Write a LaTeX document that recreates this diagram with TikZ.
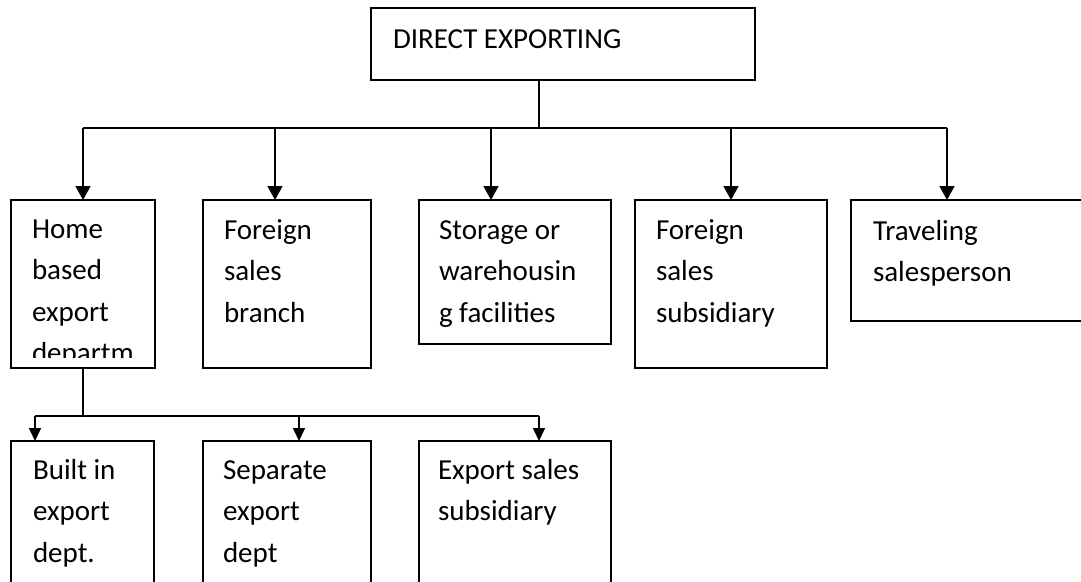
\documentclass[tikz,border=0pt]{standalone}
\usepackage{fontspec}
\setmainfont{Carlito}
\usetikzlibrary{arrows.meta}
\tikzset{
  boxn/.style={draw, line width=1.6pt, rectangle, anchor=north west, inner sep=0pt, outer sep=0pt},
  txt/.style={anchor=north west, inner sep=0pt, outer sep=0pt, align=left,
    font=\fontsize{29}{41.5}\selectfont},
  conn/.style={line width=1.6pt},
  arr/.style={line width=1.6pt, -{Triangle[width=15pt,length=14pt]}},
  arrs/.style={line width=1.6pt, -{Triangle[width=12pt,length=13pt]}},
}
\newcommand{\fs}{\rule{0pt}{24pt}}
\begin{document}
\begin{tikzpicture}[x=1pt,y=-1pt]
\path[use as bounding box, clip] (0,0) rectangle (1081,581);
% boxes
\node[boxn, minimum width=384pt, minimum height=72pt] (top) at (371,8) {};
\node[boxn, minimum width=144pt, minimum height=168pt] (r1) at (11,200) {};
\node[boxn, minimum width=168pt, minimum height=168pt] (r2) at (203,200) {};
\node[boxn, minimum width=192pt, minimum height=144pt] (r3) at (419,200) {};
\node[boxn, minimum width=192pt, minimum height=168pt] (r4) at (635,200) {};
\node[boxn, minimum width=250pt, minimum height=121pt] (r5) at (851,200) {};
\node[boxn, minimum width=143pt, minimum height=170pt] (b1) at (11,441) {};
\node[boxn, minimum width=168pt, minimum height=170pt] (b2) at (203,441) {};
\node[boxn, minimum width=192pt, minimum height=170pt] (b3) at (419,441) {};
% texts
\node[txt] (ttop) at (393,24) {\fs DIRECT EXPORTING};
\begin{scope}
\clip (12,201) rectangle (154,357);
\node[txt] (tr1) at (32,214) {\fs Home\\based\\export\\departm};
\end{scope}
\node[txt] (tr2) at (224,215) {\fs Foreign\\sales\\branch};
\node[txt] (tr3) at (439,215) {\fs Storage or\\warehousin\\g facilities};
\node[txt] (tr4) at (656,215) {\fs Foreign\\sales\\subsidiary};
\node[txt] (tr5) at (873,216) {\fs Traveling\\salesperson};
\node[txt] (tb1) at (33,455) {\fs Built in\\export\\dept.};
\node[txt] (tb2) at (223,455) {\fs Separate\\export\\dept};
\node[txt] (tb3) at (438,455) {\fs Export sales\\subsidiary};
% connectors level 1
\coordinate (j0) at (539,128);
\coordinate (j1) at (83,128);
\coordinate (j2) at (275,128);
\coordinate (j3) at (491,128);
\coordinate (j4) at (731,128);
\coordinate (j5) at (947,128);
\draw[conn] (top.south -| j0) -- (j0);
\draw[conn] (j1) -- (j5);
\draw[arr] (j1) -- (r1.north -| j1);
\draw[arr] (j2) -- (r2.north -| j2);
\draw[arr] (j3) -- (r3.north -| j3);
\draw[arr] (j4) -- (r4.north -| j4);
\draw[arr] (j5) -- (r5.north -| j5);
% connectors level 2
\coordinate (k0) at (83,416);
\coordinate (k1) at (35,416);
\coordinate (k2) at (299,416);
\coordinate (k3) at (539,416);
\draw[conn] (r1.south -| k0) -- (k0);
\draw[conn] (k1) -- (k3);
\draw[arrs] (k1) -- (b1.north -| k1);
\draw[arrs] (k2) -- (b2.north -| k2);
\draw[arrs] (k3) -- (b3.north -| k3);
\end{tikzpicture}
\end{document}
